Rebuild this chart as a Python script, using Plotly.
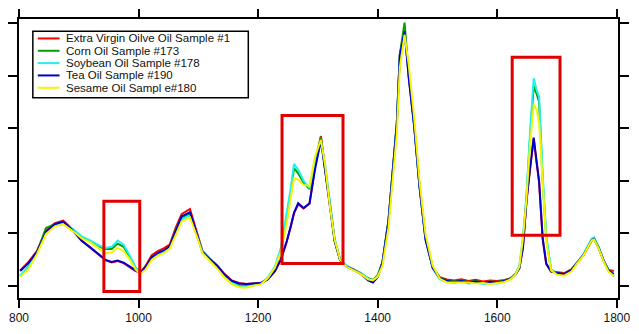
import plotly.graph_objects as go

# Wavenumber grid (cm-1) shared by all spectra
wavenumber = [802, 815, 830, 845, 860, 874, 890, 905, 920, 935,
              945, 955, 965, 975, 985, 995, 1003, 1012, 1022, 1032,
              1042, 1052, 1062, 1072, 1086, 1094, 1100, 1107, 1119, 1132,
              1144, 1156, 1168, 1180, 1192, 1204, 1216, 1228, 1238, 1248,
              1255, 1260, 1267, 1276, 1286, 1295, 1305, 1312, 1320, 1328,
              1337, 1348, 1360, 1372, 1384, 1392, 1400, 1408, 1418, 1426,
              1432, 1437, 1445, 1452, 1461, 1470, 1480, 1492, 1504, 1516,
              1528, 1540, 1552, 1564, 1576, 1588, 1600, 1612, 1622, 1630,
              1637, 1643, 1649, 1655, 1661, 1666, 1670, 1676, 1682, 1690,
              1700, 1712, 1724, 1734, 1744, 1752, 1758, 1762, 1770, 1778,
              1786, 1795]

olive = [0.29, 0.44, 0.66, 1.05, 1.19, 1.24, 1.07, 0.86, 0.72, 0.57,
         0.48, 0.44, 0.47, 0.43, 0.36, 0.28, 0.25, 0.38, 0.58, 0.66,
         0.71, 0.78, 1.10, 1.36, 1.46, 1.14, 0.93, 0.66, 0.52, 0.38,
         0.22, 0.10, 0.05, 0.03, 0.04, 0.05, 0.12, 0.27, 0.49, 0.84,
         1.14, 1.38, 1.55, 1.47, 1.56, 2.25, 2.85, 2.25, 1.48, 0.87,
         0.50, 0.37, 0.31, 0.23, 0.11, 0.07, 0.17, 0.45, 1.23, 2.29,
         3.09, 4.39, 4.88, 3.98, 3.05, 1.89, 0.89, 0.35, 0.16, 0.12,
         0.10, 0.12, 0.09, 0.11, 0.08, 0.10, 0.09, 0.11, 0.14, 0.21,
         0.34, 0.73, 1.62, 2.24, 2.80, 2.33, 1.97, 0.89, 0.41, 0.27,
         0.25, 0.24, 0.31, 0.45, 0.58, 0.74, 0.86, 0.89, 0.71, 0.48,
         0.30, 0.28]

corn = [0.18, 0.35, 0.63, 1.10, 1.17, 1.21, 1.06, 0.92, 0.84, 0.74,
        0.70, 0.70, 0.80, 0.74, 0.55, 0.33, 0.24, 0.35, 0.53, 0.61,
        0.66, 0.74, 1.05, 1.30, 1.37, 1.08, 0.88, 0.63, 0.50, 0.36,
        0.20, 0.08, 0.01, 0.00, 0.02, 0.03, 0.13, 0.32, 0.66, 1.28,
        1.80, 2.24, 2.14, 1.96, 1.84, 2.39, 2.83, 2.23, 1.45, 0.85,
        0.49, 0.36, 0.30, 0.24, 0.14, 0.11, 0.20, 0.45, 1.25, 2.30,
        3.10, 4.40, 5.01, 4.00, 3.07, 1.90, 0.90, 0.35, 0.15, 0.10,
        0.08, 0.10, 0.07, 0.09, 0.06, 0.08, 0.07, 0.10, 0.14, 0.22,
        0.35, 0.85, 1.70, 2.85, 3.80, 3.65, 3.50, 2.00, 0.90, 0.30,
        0.24, 0.22, 0.30, 0.45, 0.58, 0.75, 0.87, 0.90, 0.72, 0.48,
        0.30, 0.18]

soybean = [0.20, 0.34, 0.62, 1.00, 1.16, 1.20, 1.08, 0.94, 0.86, 0.76,
           0.72, 0.74, 0.86, 0.78, 0.58, 0.35, 0.25, 0.34, 0.52, 0.60,
           0.65, 0.72, 1.00, 1.26, 1.34, 1.10, 0.90, 0.66, 0.52, 0.34,
           0.17, 0.05, -0.01, -0.02, 0.01, 0.03, 0.16, 0.36, 0.72, 1.36,
           1.88, 2.32, 2.21, 2.00, 1.86, 2.33, 2.71, 2.32, 1.55, 0.90,
           0.52, 0.38, 0.31, 0.24, 0.13, 0.10, 0.18, 0.42, 1.20, 2.25,
           3.05, 4.35, 4.85, 4.00, 3.05, 1.88, 0.88, 0.33, 0.12, 0.07,
           0.05, 0.08, 0.04, 0.06, 0.03, 0.05, 0.04, 0.08, 0.13, 0.22,
           0.38, 0.92, 1.74, 2.95, 3.95, 3.72, 3.60, 2.12, 0.95, 0.31,
           0.22, 0.20, 0.29, 0.45, 0.59, 0.77, 0.90, 0.92, 0.73, 0.47,
           0.28, 0.20]

tea = [0.28, 0.42, 0.64, 1.02, 1.17, 1.22, 1.05, 0.85, 0.72, 0.58,
       0.49, 0.45, 0.48, 0.44, 0.37, 0.29, 0.24, 0.36, 0.54, 0.62,
       0.67, 0.75, 1.05, 1.32, 1.40, 1.10, 0.90, 0.64, 0.51, 0.37,
       0.21, 0.09, 0.04, 0.03, 0.04, 0.05, 0.12, 0.28, 0.50, 0.85,
       1.15, 1.39, 1.57, 1.48, 1.57, 2.20, 2.78, 2.20, 1.45, 0.85,
       0.49, 0.36, 0.30, 0.22, 0.10, 0.06, 0.16, 0.44, 1.22, 2.28,
       3.08, 4.38, 4.85, 3.95, 3.04, 1.88, 0.88, 0.34, 0.14, 0.09,
       0.07, 0.09, 0.06, 0.08, 0.05, 0.07, 0.06, 0.09, 0.13, 0.20,
       0.33, 0.72, 1.63, 2.25, 2.82, 2.35, 1.99, 0.90, 0.42, 0.27,
       0.24, 0.22, 0.30, 0.44, 0.58, 0.74, 0.86, 0.89, 0.71, 0.47,
       0.29, 0.22]

sesame = [0.17, 0.30, 0.60, 0.98, 1.13, 1.17, 1.04, 0.90, 0.82, 0.70,
          0.62, 0.63, 0.72, 0.66, 0.50, 0.31, 0.22, 0.31, 0.49, 0.57,
          0.62, 0.70, 0.97, 1.22, 1.30, 1.06, 0.86, 0.62, 0.48, 0.32,
          0.15, 0.03, -0.03, -0.04, 0.00, 0.02, 0.14, 0.34, 0.64, 1.20,
          1.70, 2.05, 2.02, 1.92, 1.90, 2.45, 2.78, 2.30, 1.52, 0.88,
          0.50, 0.36, 0.29, 0.22, 0.12, 0.10, 0.17, 0.38, 1.10, 2.10,
          2.90, 4.15, 4.78, 4.20, 3.20, 2.00, 0.98, 0.38, 0.13, 0.06,
          0.06, 0.05, 0.06, 0.04, 0.05, 0.03, 0.05, 0.07, 0.12, 0.20,
          0.36, 0.90, 1.68, 2.70, 3.45, 3.35, 3.10, 1.85, 0.85, 0.29,
          0.21, 0.19, 0.27, 0.43, 0.57, 0.74, 0.86, 0.88, 0.70, 0.46,
          0.27, 0.19]

names = ["Extra Virgin Oilve Oil Sample #1", "Corn Oil Sample #173",
         "Soybean Oil Sample #178", "Tea Oil Sample #190",
         "Sesame Oil Sampl e#180"]
series = [olive, corn, soybean, tea, sesame]
colors = ["#FF0000", "#00A000", "#22F0F0", "#0000CC", "#F5F500"]

# Highlighted spectral windows: (x0, x1, y0, y1)
highlights = [(942, 1002, -0.11, 1.61),
              (1240, 1342, 0.42, 3.24),
              (1625, 1705, 0.96, 4.35)]

x_ticks = [800, 1000, 1200, 1400, 1600, 1800]
y_ticks = [0, 1, 2, 3, 4, 5]

FONT = "Arial, Liberation Sans, sans-serif"

fig = go.Figure()
for name, ys, col in zip(names, series, colors):
    fig.add_trace(go.Scatter(x=wavenumber, y=ys, mode="lines", name=name,
                             line=dict(color=col, width=2),
                             showlegend=False))

shapes = []
for x0, x1, y0, y1 in highlights:
    shapes.append(dict(type="rect", xref="x", yref="y", x0=x0, x1=x1,
                       y0=y0, y1=y1, line=dict(color="#E00000", width=3),
                       fillcolor="rgba(0,0,0,0)"))

# Compact legend box drawn in paper coordinates
lg_x0, lg_x1, lg_y0, lg_y1 = 0.0231, 0.3828, 0.7177, 0.9558
shapes.append(dict(type="rect", xref="paper", yref="paper", x0=lg_x0, x1=lg_x1,
                   y0=lg_y0, y1=lg_y1, line=dict(color="black", width=1.5),
                   fillcolor="white"))
annotations = []
row_top, row_step = 0.9303, 0.0442
for i, (name, col) in enumerate(zip(names, colors)):
    yy = row_top - i * row_step
    shapes.append(dict(type="line", xref="paper", yref="paper",
                       x0=0.0314, x1=0.0677, y0=yy, y1=yy,
                       line=dict(color=col, width=2)))
    annotations.append(dict(xref="paper", yref="paper", x=0.0776, y=yy,
                            text=name, showarrow=False, xanchor="left",
                            yanchor="middle", borderpad=0,
                            font=dict(family=FONT, size=11.5, color="#111")))

fig.update_layout(
    width=639, height=334,
    margin=dict(l=12, r=21, t=9, b=31, pad=0),
    paper_bgcolor="white", plot_bgcolor="white",
    shapes=shapes, annotations=annotations,
    font=dict(family=FONT, size=12, color="#111"),
)
fig.update_xaxes(range=[800, 1802], tickvals=x_ticks,
                 showgrid=False, zeroline=False, showline=True,
                 linecolor="black", linewidth=1.5, mirror="ticks",
                 ticks="outside", ticklen=8, tickwidth=1.5, tickcolor="black",
                 tickfont=dict(family=FONT, size=12, color="#111"))
fig.update_yaxes(range=[-0.235, 5.08], tickvals=y_ticks, showticklabels=False,
                 showgrid=False, zeroline=False, showline=True,
                 linecolor="black", linewidth=1.5, mirror="ticks",
                 ticks="outside", ticklen=9, tickwidth=1.5, tickcolor="black")

# Page body without the default browser margin so the figure fills the window
fig.write_html("out.html",
               post_script="document.body.style.margin='0';"
                           "document.body.style.overflow='hidden';")
